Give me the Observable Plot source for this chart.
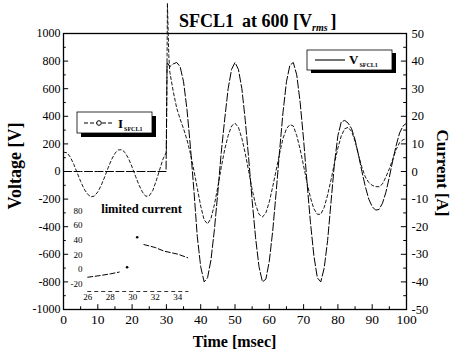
<!DOCTYPE html>
<html><head><meta charset="utf-8">
<script src="https://cdn.jsdelivr.net/npm/d3@7"></script>
<script src="https://cdn.jsdelivr.net/npm/@observablehq/plot@0.6"></script>
<style>
html,body{margin:0;padding:0;background:#fff;}
#wrap{position:relative;width:453px;height:353px;overflow:hidden;}
#inset{position:absolute;left:60px;top:195px;}
</style></head><body><div id="wrap"><div id="main"></div><div id="inset"></div></div>
<script>
// ---- data ----
const voltageTime = [0,5,10,15,20,25,29.9,30.2,
  31,32,33,34,35,36,37,38,39,40,41,42,43,44,45,46,47,48,49,50,
  51,52,53,54,55,56,57,58,59,60,61,62,63,64,65,66,67,68,69,70,
  71,72,73,74,75,76,77,78,79,80,81,82,83,84,85,86,87,88,89,90,
  91,92,93,94,95,96,97,98,99,100];
const voltageV = [0,0,0,0,0,0,0,790,
  760,780,790,760,650,450,180,-130,-470,-690,
  -800,-770,-640,-420,-150,140,380,600,740,790,
  740,600,370,90,-210,-480,-690,-800,-780,-650,
  -430,-150,150,430,650,770,790,700,500,230,
  -80,-370,-610,-770,-800,-700,-500,-220,60,260,
  360,370,350,310,230,120,0,-110,-200,-255,
  -280,-275,-230,-150,-40,80,190,280,330,350];
const currentTime = [0,1,2,3,4,5,6,7,8,9,10,11,12,13,14,15,16,17,18,19,20,
  21,22,23,24,25,26,27,28,29,30,30.3,30.7,
  31,32,33,34,35,36,37,38,39,40,41,42,43,44,45,46,47,48,49,50,
  51,52,53,54,55,56,57,58,59,60,61,62,63,64,65,66,67,68,69,70,
  71,72,73,74,75,76,77,78,79,80,81,82,83,84,85,86,87,88,89,90,
  91,92,93,94,95,96,97,98,99,100];
const currentA = [7.0,6.8,5.2,2.6,-0.5,-3.6,-6.3,-8.2,-9.2,-8.9,-7.4,
  -5.0,-2.0,1.3,4.3,6.6,7.8,7.9,6.8,4.6,1.6,
  -1.7,-4.9,-7.4,-9.0,-8.8,-7.0,-3.5,0.5,4.5,7.0,61,42,
  36,29,23,19,15.5,11.5,6.5,0.5,-6,-12.5,
  -17.5,-19,-17,-12,-5.5,1.5,8,13,16.5,17.5,
  16,12,6.5,0,-6.5,-12,-15.5,-16.5,-15,-11,
  -5.5,0.5,6.5,12,15.5,17,16.5,13,8,2,
  -4,-9.5,-13.5,-15.5,-15.5,-13,-8.5,-3,3,8.5,
  13,15.5,16,14.5,11,6,1.5,-2,-4,-5,
  -5.5,-5.5,-4.5,-2,1,4.5,8,10.5,11.5,12];
// inset "limited current" (A vs msec)
const insetLineTime = [26,27,28,28.8, 31,32,32.8,34,34.9];
const insetLineA    = [-10.5,-8.5,-6,-3.5, 34,30,25,21,16];
const insetLineSeg  = [1,1,1,1, 2,2,2,2,2];
const insetDotTime = [29.5,30.4];
const insetDotA    = [3,44];
// ticks
const voltTicks = [-1000,-800,-600,-400,-200,0,200,400,600,800,1000];
const voltMinor = [-900,-700,-500,-300,-100,100,300,500,700,900];
const timeTicks = [0,10,20,30,40,50,60,70,80,90,100];
const timeMinor = [5,15,25,35,45,55,65,75,85,95];
const insetXTicks = [26,28,30,32,34];
const insetYTicks = [-20,0,20,40,60,80];
const ampPerVolt = 50/1000; // right axis: 50 A <-> 1000 V

const vData = voltageTime.map((t,i)=>({t, v: voltageV[i]}));
const iData = currentTime.map((t,i)=>({t, a: currentA[i]}));
const insLine = insetLineTime.map((t,i)=>({t, a: insetLineA[i], s: insetLineSeg[i]}));
const insDot = insetDotTime.map((t,i)=>({t, a: insetDotA[i]}));

const serif = "'Liberation Serif', 'Times New Roman', serif";

const main = Plot.plot({
  width: 453, height: 353,
  marginLeft: 63, marginRight: 47, marginTop: 33, marginBottom: 44,
  style: {fontFamily: serif, fontSize: "12px", background: "white", color: "black", overflow: "visible"},
  x: {domain: [0,100], label: null},
  y: {domain: [-1000,1000], label: null},
  marks: [
    Plot.axisY(voltTicks, {anchor: "left", tickSize: 0, tickPadding: 3, tickFormat: d => String(d), fontSize: 12, label: null}),
    Plot.axisY(voltTicks, {anchor: "right", tickSize: 0, tickPadding: 5, tickFormat: d => String(d*ampPerVolt), fontSize: 12.5, label: null}),
    Plot.axisX(timeTicks, {anchor: "bottom", tickSize: 0, tickPadding: 5, tickFormat: d => String(d), fontSize: 13.5, label: null}),
    Plot.ruleY(voltTicks, {x1: 0, x2: 1.5, stroke: "black"}),
    Plot.ruleY(voltMinor, {x1: 0, x2: 0.8, stroke: "black"}),
    Plot.ruleY(voltTicks, {x1: 98.5, x2: 100, stroke: "black"}),
    Plot.ruleY(voltMinor, {x1: 99.2, x2: 100, stroke: "black"}),
    Plot.ruleX(timeTicks, {y1: -1000, y2: -965, stroke: "black"}),
    Plot.ruleX(timeMinor, {y1: -1000, y2: -980, stroke: "black"}),
    Plot.line(vData, {x: "t", y: "v", stroke: "black", strokeWidth: 1, strokeDasharray: "8,2.5"}),
    Plot.line(iData, {x: "t", y: d => d.a/ampPerVolt, stroke: "black", strokeWidth: 0.9, strokeDasharray: "3,2.5"}),
    Plot.frame({stroke: "black", strokeWidth: 1.3})
  ]
});
document.getElementById("main").appendChild(main);

const svg = d3.select(main);
// title
const title = svg.append("text").attr("x", 179).attr("y", 27).attr("text-anchor", "start")
  .attr("font-family", serif).attr("font-weight", "bold").attr("font-size", 18).attr("fill", "black");
title.append("tspan").text("SFCL1");
title.append("tspan").attr("dx", 8).text("at 600 [V");
title.append("tspan").attr("font-size", 10).attr("font-style", "italic").attr("dy", 4).text("rms");
title.append("tspan").attr("dy", -4).attr("dx", 3).text("]");
// axis titles
svg.append("text").attr("transform", "translate(21,166) rotate(-90)").attr("text-anchor", "middle")
  .attr("font-family", serif).attr("font-weight", "bold").attr("font-size", 18).text("Voltage [V]");
svg.append("text").attr("transform", "translate(437,173) rotate(90)").attr("text-anchor", "middle")
  .attr("font-family", serif).attr("font-weight", "bold").attr("font-size", 17).text("Current [A]");
svg.append("text").attr("x", 234.5).attr("y", 347).attr("text-anchor", "middle")
  .attr("font-family", serif).attr("font-weight", "bold").attr("font-size", 16).text("Time [msec]");
// legend V
svg.append("rect").attr("x", 311).attr("y", 53).attr("width", 85).attr("height", 20).attr("fill", "black");
svg.append("rect").attr("x", 307).attr("y", 50).attr("width", 85).attr("height", 20).attr("fill", "white").attr("stroke", "black").attr("stroke-width", 0.8);
svg.append("line").attr("x1", 315).attr("x2", 345).attr("y1", 60).attr("y2", 60).attr("stroke", "black").attr("stroke-width", 1.1);
const lv = svg.append("text").attr("x", 349).attr("y", 64).attr("text-anchor", "start").attr("font-family", serif).attr("font-weight", "bold").attr("font-size", 13);
lv.append("tspan").text("V");
lv.append("tspan").attr("font-size", 6).attr("dy", 3).attr("dx", 1).text("SFCL1");
// legend I
svg.append("rect").attr("x", 81).attr("y", 116).attr("width", 75).attr("height", 21).attr("fill", "black");
svg.append("rect").attr("x", 77).attr("y", 112).attr("width", 75).attr("height", 21).attr("fill", "white").attr("stroke", "black").attr("stroke-width", 0.8);
svg.append("line").attr("x1", 84).attr("x2", 114).attr("y1", 123).attr("y2", 123).attr("stroke", "black").attr("stroke-width", 1).attr("stroke-dasharray", "4,2");
svg.append("circle").attr("cx", 99).attr("cy", 123).attr("r", 2.3).attr("fill", "white").attr("stroke", "black");
const li = svg.append("text").attr("x", 118).attr("y", 128).attr("text-anchor", "start").attr("font-family", serif).attr("font-weight", "bold").attr("font-size", 13);
li.append("tspan").text("I");
li.append("tspan").attr("font-size", 6).attr("dy", 3).attr("dx", 1).text("SFCL1");

// inset
const inset = Plot.plot({
  width: 139, height: 110,
  marginLeft: 25, marginRight: 5, marginTop: 8, marginBottom: 14,
  style: {fontFamily: serif, fontSize: "9px", background: "none", color: "black", overflow: "visible"},
  x: {domain: [25.8, 35.5], label: null},
  y: {domain: [-30, 90], label: null},
  marks: [
    Plot.axisY(insetYTicks, {anchor: "left", tickSize: 0, tickPadding: 3, tickFormat: d => String(d), fontSize: 9, label: null}),
    Plot.axisX(insetXTicks, {anchor: "bottom", tickSize: 0, tickPadding: 2, tickFormat: d => String(d), fontSize: 9, label: null}),
    Plot.ruleY([-30], {x1: 26, x2: 35, stroke: "black", strokeDasharray: "4,3", strokeWidth: 0.8}),
    Plot.line(insLine, {x: "t", y: "a", z: "s", stroke: "black", strokeWidth: 1, strokeDasharray: "5,2.5"}),
    Plot.dot(insDot, {x: "t", y: "a", r: 1.3, fill: "black"}),
    Plot.text(["limited current"], {frameAnchor: "top", dx: 1.5, dy: 1, fontWeight: "bold", fontSize: 12.5})
  ]
});
document.getElementById("inset").appendChild(inset);
</script></body></html>
